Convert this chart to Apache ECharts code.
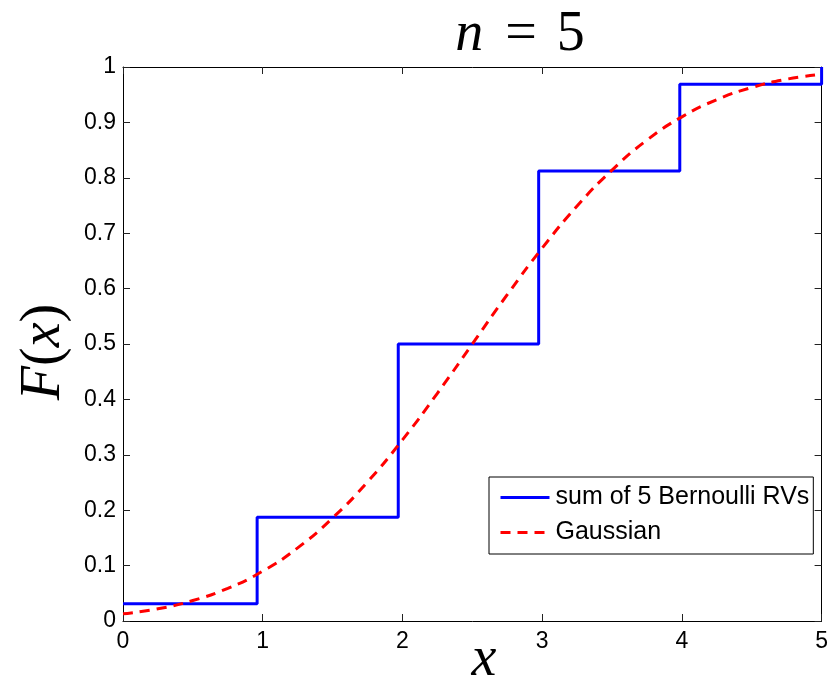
<!DOCTYPE html>
<html>
<head>
<meta charset="utf-8">
<script src="https://cdn.jsdelivr.net/npm/echarts@6/dist/echarts.min.js"></script>
<style>
  html, body { margin: 0; padding: 0; background: #ffffff; }
  #chart { width: 831px; height: 679px; }
</style>
</head>
<body>
<div id="chart"></div>
<script>
// CDF of the sum of 5 Bernoulli variables (staircase) and its Gaussian approximation
const stepX = [0, 0.96, 1.97, 2.975, 3.985, 5];
const stepY = [0.03125, 0.1875, 0.5, 0.8125, 0.96875, 1];

const gaussX = [0, 0.25, 0.5, 0.75, 1, 1.25, 1.5, 1.75, 2, 2.25, 2.5,
                2.75, 3, 3.25, 3.5, 3.75, 4, 4.25, 4.5, 4.75, 5];
const gaussY = [0.013, 0.022, 0.037, 0.059, 0.090, 0.132, 0.186, 0.251, 0.327, 0.411, 0.500,
                0.589, 0.673, 0.749, 0.814, 0.868, 0.910, 0.941, 0.963, 0.978, 0.987];

const xTicks = ['0', '1', '2', '3', '4', '5'];
const yTicks = ['0', '0.1', '0.2', '0.3', '0.4', '0.5', '0.6', '0.7', '0.8', '0.9', '1'];

const seriesNames = ['sum of 5 Bernoulli RVs', 'Gaussian'];

const pair = (xs, ys) => xs.map((x, i) => [x, ys[i]]);

const tickFont = { color: '#000', fontFamily: 'Liberation Sans, Arial, sans-serif', fontSize: 23 };
const mathFont = 'Liberation Serif, Times New Roman, serif';

const axisCommon = {
  type: 'value',
  axisLine: { show: true, onZero: false, lineStyle: { color: '#000', width: 1 } },
  axisTick: { show: true, inside: true, length: 7, lineStyle: { color: '#222', width: 1 } },
  splitLine: { show: false }
};

const chart = echarts.init(document.getElementById('chart'), null, { renderer: 'canvas' });

chart.setOption({
  backgroundColor: '#ffffff',
  animation: false,
  grid: { left: 123, right: 6, top: 67, bottom: 58, containLabel: false },
  xAxis: [
    Object.assign({}, axisCommon, {
      position: 'bottom', min: 0, max: 5, interval: 1,
      axisLabel: Object.assign({ margin: 9, formatter: v => xTicks[Math.round(v)] }, tickFont)
    }),
    Object.assign({}, axisCommon, {
      position: 'top', min: 0, max: 5, interval: 1,
      axisLabel: { show: false }
    })
  ],
  yAxis: [
    Object.assign({}, axisCommon, {
      position: 'left', min: 0, max: 1, interval: 0.1,
      axisLabel: Object.assign({ margin: 7, formatter: v => yTicks[Math.round(v * 10)] }, tickFont)
    }),
    Object.assign({}, axisCommon, {
      position: 'right', min: 0, max: 1, interval: 0.1,
      axisLabel: { show: false }
    })
  ],
  legend: {
    data: seriesNames,
    orient: 'vertical',
    left: 489,
    top: 477,
    padding: [8, 4, 9, 10],
    itemGap: 10,
    itemWidth: 49,
    itemHeight: 14,
    backgroundColor: '#ffffff',
    borderColor: '#000',
    borderWidth: 1,
    borderRadius: 0,
    itemStyle: { opacity: 0 },
    lineStyle: { width: 3 },
    textStyle: { color: '#000', fontFamily: 'Liberation Sans, Arial, sans-serif', fontSize: 25, padding: [0, 0, 0, 1] }
  },
  series: [
    {
      name: seriesNames[0],
      type: 'line',
      step: 'end',
      data: pair(stepX, stepY),
      symbol: 'none',
      color: '#0000ff',
      lineStyle: { color: '#0000ff', width: 3 },
      z: 2
    },
    {
      name: seriesNames[1],
      type: 'line',
      data: pair(gaussX, gaussY),
      smooth: true,
      symbol: 'none',
      color: '#ff0000',
      lineStyle: { color: '#ff0000', width: 3, type: [10, 7] },
      z: 3
    }
  ],
  graphic: [
    {
      type: 'text',
      x: 520, y: 35,
      style: {
        text: '{i|n}{e|=}{d|5}',
        align: 'center', verticalAlign: 'middle',
        fontFamily: mathFont, fontSize: 56, fill: '#000',
        rich: {
          i: { fontStyle: 'italic', fontFamily: mathFont, fontSize: 56, padding: [0, 22, 0, 0] },
          e: { fontFamily: mathFont, fontSize: 56, padding: [0, 20, 0, 0] },
          d: { fontFamily: mathFont, fontSize: 56 }
        }
      }
    },
    {
      type: 'text',
      x: 484, y: 660,
      style: {
        text: 'x',
        align: 'center', verticalAlign: 'middle',
        fontFamily: mathFont, fontStyle: 'italic', fontSize: 56, fill: '#000'
      }
    },
    {
      type: 'text',
      x: 44, y: 352,
      rotation: Math.PI / 2,
      style: {
        text: '{i|F}({i|x})',
        align: 'center', verticalAlign: 'middle',
        fontFamily: mathFont, fontSize: 56, fill: '#000',
        rich: { i: { fontStyle: 'italic', fontFamily: mathFont, fontSize: 56 } }
      }
    }
  ]
});
</script>
</body>
</html>
